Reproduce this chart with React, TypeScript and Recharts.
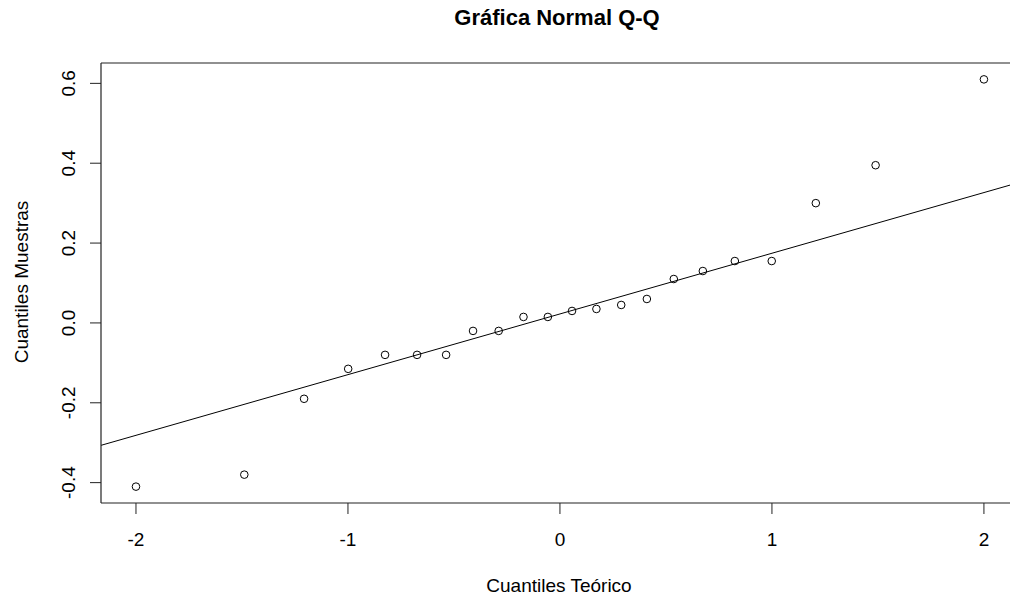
import React from 'react';
import {
  ScatterChart, Scatter, XAxis, YAxis, ReferenceLine,
} from 'recharts';

// theoretical quantiles (22 points) and observed sample quantiles
const TEORICO = [
  -2.0, -1.489, -1.207, -0.999, -0.825, -0.674, -0.537, -0.41, -0.289, -0.172, -0.057,
  0.057, 0.172, 0.289, 0.41, 0.537, 0.674, 0.825, 0.999, 1.207, 1.489, 2.0,
];
const MUESTRAS = [
  -0.41, -0.38, -0.19, -0.115, -0.08, -0.08, -0.08, -0.02, -0.02, 0.015, 0.015,
  0.03, 0.035, 0.045, 0.06, 0.11, 0.13, 0.155, 0.155, 0.30, 0.395, 0.61,
];
const X_TICKS = [-2, -1, 0, 1, 2];
const Y_TICKS = [-0.4, -0.2, 0.0, 0.2, 0.4, 0.6];
const X_DOMAIN = [-2.165, 2.123];
const Y_DOMAIN = [-0.451, 0.651];
// qq reference line (through the quartiles)
const QQ_INTERCEPT = 0.0225;
const QQ_SLOPE = 0.152;

const data = TEORICO.map((x, i) => ({ x, y: MUESTRAS[i] }));

const FONT = '"Liberation Sans", Arial, sans-serif';
const INK = '#000';

const Circle = (props: any) => (
  <circle cx={props.cx} cy={props.cy} r={3.8} fill="none" stroke={INK} strokeWidth={1} />
);

const XTick = ({ x, payload }: any) => (
  <text x={x} y={546} textAnchor="middle" fontSize={19} fontFamily={FONT} fill={INK}>
    {payload.value}
  </text>
);

const YTick = ({ y, payload }: any) => (
  <text
    x={75}
    y={y}
    transform={`rotate(-90, 75, ${y})`}
    textAnchor="middle"
    fontSize={19}
    fontFamily={FONT}
    fill={INK}
  >
    {Number(payload.value).toFixed(1)}
  </text>
);

export default function App() {
  const lineY = (x: number) => QQ_INTERCEPT + QQ_SLOPE * x;
  return (
    <div style={{ position: 'absolute', left: 0, top: 0, width: 1010, height: 600, background: '#fff' }}>
      <ScatterChart width={1010} height={600} margin={{ top: 63, right: 0, bottom: 0, left: 0 }}>
        <XAxis
          type="number"
          dataKey="x"
          domain={X_DOMAIN}
          allowDataOverflow
          ticks={X_TICKS}
          height={97}
          tickSize={11}
          tick={<XTick />}
          axisLine={{ stroke: '#222', strokeWidth: 1.2 }}
          tickLine={{ stroke: '#222' }}
        />
        <YAxis
          type="number"
          dataKey="y"
          domain={Y_DOMAIN}
          allowDataOverflow
          ticks={Y_TICKS}
          width={101}
          tickSize={11}
          tick={<YTick />}
          axisLine={{ stroke: '#222', strokeWidth: 1.2 }}
          tickLine={{ stroke: '#222' }}
        />
        {/* top edge of the plot box */}
        <ReferenceLine y={Y_DOMAIN[1]} stroke="#222" strokeWidth={1.2} ifOverflow="visible" />
        <ReferenceLine
          segment={[
            { x: X_DOMAIN[0], y: lineY(X_DOMAIN[0]) },
            { x: X_DOMAIN[1], y: lineY(X_DOMAIN[1]) },
          ]}
          stroke={INK}
          strokeWidth={1}
          ifOverflow="visible"
        />
        <Scatter data={data} shape={<Circle />} isAnimationActive={false} />
        <text x={557} y={25} textAnchor="middle" fontSize={22} fontWeight="bold" fontFamily={FONT} fill={INK}>
          Gráfica Normal Q-Q
        </text>
        <text x={559} y={592} textAnchor="middle" fontSize={19} fontFamily={FONT} fill={INK}>
          Cuantiles Teórico
        </text>
        <text
          x={28}
          y={282}
          transform="rotate(-90, 28, 282)"
          textAnchor="middle"
          fontSize={19}
          fontFamily={FONT}
          fill={INK}
        >
          Cuantiles Muestras
        </text>
      </ScatterChart>
    </div>
  );
}
